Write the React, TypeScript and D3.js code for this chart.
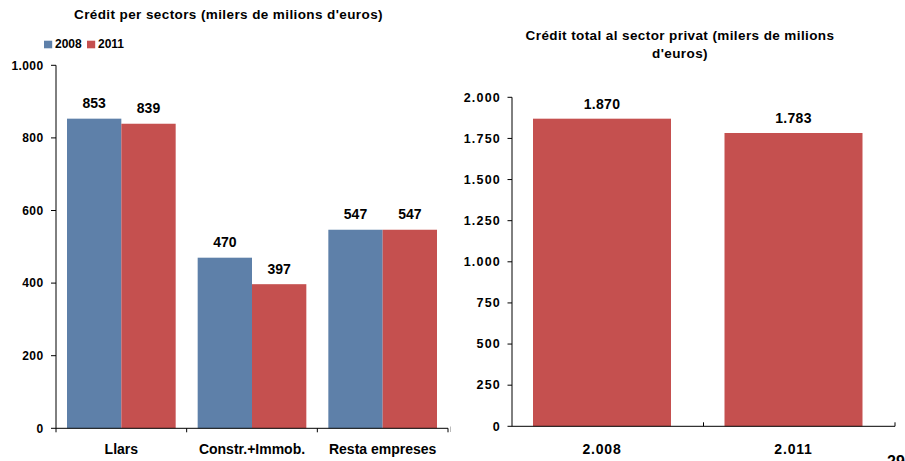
import React from "react";
import * as d3 from "d3";

const sectorCategories = ["Llars", "Constr.+Immob.", "Resta empreses"];
const sectorSeries = ["2008", "2011"];
const sectorValues2008 = [853, 470, 547];
const sectorValues2011 = [839, 397, 547];
const leftTicks = [0, 200, 400, 600, 800, 1000];

const totalCategories = ["2.008", "2.011"];
const totalValues = [1870, 1783];
const rightTicks = [0, 250, 500, 750, 1000, 1250, 1500, 1750, 2000];

const BLUE = "#5E80A9";
const RED = "#C5504F";
const FONT = "'Liberation Sans', Arial, Helvetica, sans-serif";

const fmt = (v: number) => {
  const s = String(v);
  return s.replace(/\B(?=(\d{3})+(?!\d))/g, ".");
};

export default function App() {
  // left chart
  const lx = d3.scaleBand<string>().domain(sectorCategories).range([56, 448]).padding(0);
  const lxInner = d3
    .scaleBand<string>()
    .domain(sectorSeries)
    .range([11, lx.bandwidth() - 11])
    .padding(0);
  const ly = d3.scaleLinear().domain([0, 1000]).range([428.3, 65.3]);
  const seriesData = [sectorValues2008, sectorValues2011];
  const seriesColors = [BLUE, RED];

  // right chart
  const rx = d3.scaleBand<string>().domain(totalCategories).range([512, 895]).padding(0);
  const barOffset = 21;
  const barW = 138;
  const ry = d3.scaleLinear().domain([0, 2000]).range([426.3, 97.3]);

  return (
    <svg
      width={905}
      height={461}
      style={{ position: "absolute", left: 0, top: 0, background: "#fff" }}
      fontFamily={FONT}
      fontWeight="bold"
    >
      <rect x={0} y={0} width={905} height={461} fill="#fff" />
      {/* LEFT CHART */}
      <text x={228.5} y={18.5} textAnchor="middle" fontSize={13.5} letterSpacing={0.4} fill="#000">
        Crédit per sectors (milers de milions d'euros)
      </text>
      {/* legend */}
      {sectorSeries.map((s, i) => (
        <g key={s} transform={`translate(${44 + i * 43},0)`}>
          <rect x={0} y={40.7} width={8.2} height={7.6} fill={seriesColors[i]} />
          <text x={11} y={48.3} fontSize={12} fill="#000">
            {s}
          </text>
        </g>
      ))}
      {/* bars */}
      {sectorCategories.map((c, ci) => (
        <g key={c}>
          {seriesData.map((vals, si) => {
            const x = (lx(c) ?? 0) + (lxInner(sectorSeries[si]) ?? 0);
            const w = lxInner.bandwidth();
            return (
              <g key={si}>
                <rect x={x} y={ly(vals[ci])} width={w} height={ly(0) - ly(vals[ci])} fill={seriesColors[si]} />
                <text x={x + w / 2} y={ly(vals[ci]) - 10.5} textAnchor="middle" fontSize={14} fill="#000">
                  {fmt(vals[ci])}
                </text>
              </g>
            );
          })}
          <text x={(lx(c) ?? 0) + lx.bandwidth() / 2} y={454} textAnchor="middle" fontSize={14} fill="#000">
            {c}
          </text>
        </g>
      ))}
      {/* left axes */}
      <line x1={56} x2={56} y1={ly(1000)} y2={ly(0)} stroke="#000" strokeWidth={1} />
      {leftTicks.map((t) => (
        <g key={t}>
          <line x1={51} x2={56} y1={ly(t)} y2={ly(t)} stroke="#000" strokeWidth={1} />
          <text x={43.5} y={ly(t) + 4.3} textAnchor="end" fontSize={12} letterSpacing={0.4} fill="#000">
            {fmt(t)}
          </text>
        </g>
      ))}
      <line x1={56} x2={448} y1={ly(0)} y2={ly(0)} stroke="#000" strokeWidth={1} />
      {[...sectorCategories.map((c) => lx(c) ?? 0), 448].map((x, i) => (
        <line key={i} x1={x} x2={x} y1={ly(0)} y2={ly(0) + 4} stroke="#000" strokeWidth={1} />
      ))}

      {/* RIGHT CHART */}
      <text x={680} y={39.5} textAnchor="middle" fontSize={13.5} letterSpacing={0.4} fill="#000">
        Crédit total al sector privat (milers de milions
      </text>
      <text x={680} y={57.5} textAnchor="middle" fontSize={13.5} letterSpacing={0.4} fill="#000">
        d'euros)
      </text>
      {totalCategories.map((c, i) => {
        const x = (rx(c) ?? 0) + barOffset;
        return (
          <g key={c}>
            <rect x={x} y={ry(totalValues[i])} width={barW} height={ry(0) - ry(totalValues[i])} fill={RED} />
            <text x={x + barW / 2} y={ry(totalValues[i]) - 10} textAnchor="middle" fontSize={14} letterSpacing={0.3} fill="#000">
              {fmt(totalValues[i])}
            </text>
            <text x={x + barW / 2} y={453.5} textAnchor="middle" fontSize={14} letterSpacing={0.8} fill="#000">
              {c}
            </text>
          </g>
        );
      })}
      <line x1={512} x2={512} y1={ry(2000)} y2={ry(0)} stroke="#000" strokeWidth={1} />
      {rightTicks.map((t) => (
        <g key={t}>
          <line x1={507.5} x2={512} y1={ry(t)} y2={ry(t)} stroke="#000" strokeWidth={1} />
          <text x={501} y={ry(t) + 4.3} textAnchor="end" fontSize={12.5} letterSpacing={1.2} fill="#000">
            {fmt(t)}
          </text>
        </g>
      ))}
      <line x1={512} x2={895} y1={ry(0)} y2={ry(0)} stroke="#000" strokeWidth={1} />
      {[...totalCategories.slice(1).map((c) => rx(c) ?? 0), 895].map((x, i) => (
        <line key={i} x1={x} x2={x} y1={ry(0)} y2={ry(0) - 4} stroke="#000" strokeWidth={1} />
      ))}

      {/* page decorations */}
      <line x1={450.5} x2={450.5} y1={426.5} y2={432} stroke="#bbb" strokeWidth={1} />
      <text x={887} y={467} fontSize={16} fill="#000">
        29
      </text>
    </svg>
  );
}
